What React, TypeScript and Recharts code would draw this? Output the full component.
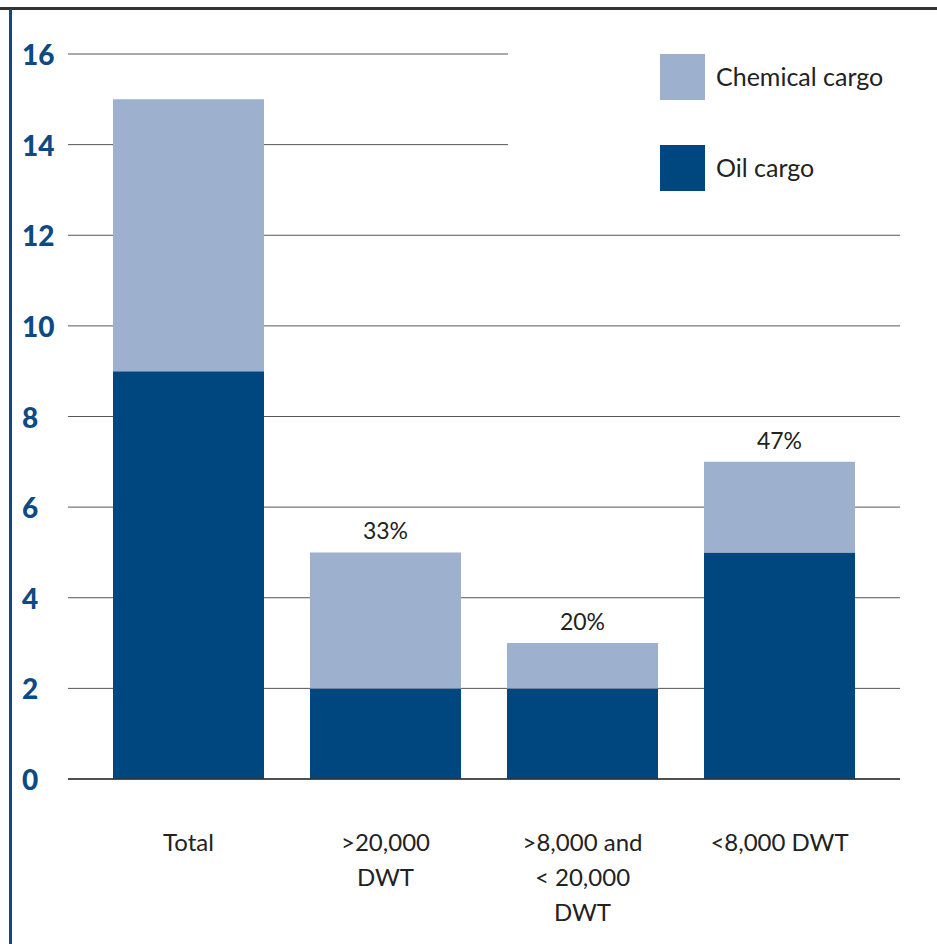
import { BarChart, Bar, XAxis, YAxis, CartesianGrid, Legend, LabelList } from 'recharts';

const categories = ['Total', '>20,000\nDWT', '>8,000 and\n< 20,000\nDWT', '<8,000 DWT'];
const oilCargo = [9, 2, 2, 5];
const chemicalCargo = [6, 3, 1, 2];
const shareLabels = ['', '33%', '20%', '47%'];
const yTicks = [0, 2, 4, 6, 8, 10, 12, 14, 16];

const OIL = '#00467f';
const CHEM = '#9db0ce';
const BLUE_TEXT = '#0b4a84';
const FONT = 'Lato, "Open Sans", sans-serif';

const rows = categories.map((name, i) => ({
  name,
  oil: oilCargo[i],
  chemical: chemicalCargo[i],
  share: shareLabels[i],
}));

function YTick({ y, payload }: any) {
  return (
    <text x={22} y={y} dy={11} textAnchor="start" fill={BLUE_TEXT} fontSize={28} fontWeight={900} fontFamily={FONT}>
      {payload.value}
    </text>
  );
}

function XTick({ x, y, payload }: any) {
  const lines = String(payload.value).split('\n');
  return (
    <text x={x} y={y} textAnchor="middle" fill="#222" fontSize={24} fontFamily={FONT}>
      {lines.map((line, i) => (
        <tspan key={i} x={x} dy={i === 0 ? 64 : 35}>
          {line}
        </tspan>
      ))}
    </text>
  );
}

function LegendBox() {
  const items = [
    { label: 'Chemical cargo', color: CHEM },
    { label: 'Oil cargo', color: OIL },
  ];
  return (
    <div style={{ background: '#fff', width: 429, height: 170, paddingTop: 24, boxSizing: 'border-box' }}>
      {items.map((it) => (
        <div key={it.label} style={{ display: 'flex', alignItems: 'center', height: 46, marginBottom: 45, marginLeft: 152 }}>
          <div style={{ width: 45, height: 46, background: it.color }} />
          <span style={{ marginLeft: 11, marginTop: -3, fontSize: 25, color: '#222', fontFamily: FONT }}>{it.label}</span>
        </div>
      ))}
    </div>
  );
}

export default function App() {
  return (
    <div style={{ position: 'absolute', left: 0, top: 0, width: 937, height: 944, background: '#fff', overflow: 'hidden' }}>
      <div style={{ position: 'absolute', left: 0, top: 7, width: 937, height: 3, background: '#333' }} />
      <div style={{ position: 'absolute', left: 9, top: 9, width: 3, height: 935, background: BLUE_TEXT }} />
      <BarChart
        width={937}
        height={944}
        data={rows}
        margin={{ top: 54, right: 37, bottom: 25, left: 8 }}
        barSize={151}
        style={{ position: 'absolute', left: 0, top: 0 }}
      >
        <CartesianGrid vertical={false} stroke="#555" strokeWidth={1} />
        <XAxis
          dataKey="name"
          interval={0}
          height={140}
          padding={{ left: 22, right: 22 }}
          tickLine={false}
          axisLine={{ stroke: '#333', strokeWidth: 1.5 }}
          tick={<XTick />}
        />
        <YAxis
          width={60}
          domain={[0, 16]}
          ticks={yTicks}
          interval={0}
          axisLine={false}
          tickLine={false}
          tick={<YTick />}
        />
        <Legend
          layout="vertical"
          align="center"
          verticalAlign="middle"
          wrapperStyle={{ left: 508, top: 30, width: 429 }}
          content={<LegendBox />}
        />
        <Bar dataKey="oil" stackId="a" fill={OIL} isAnimationActive={false} />
        <Bar dataKey="chemical" stackId="a" fill={CHEM} isAnimationActive={false}>
          <LabelList dataKey="share" position="top" offset={13} fill="#222" fontSize={23} fontFamily={FONT} />
        </Bar>
      </BarChart>
    </div>
  );
}
